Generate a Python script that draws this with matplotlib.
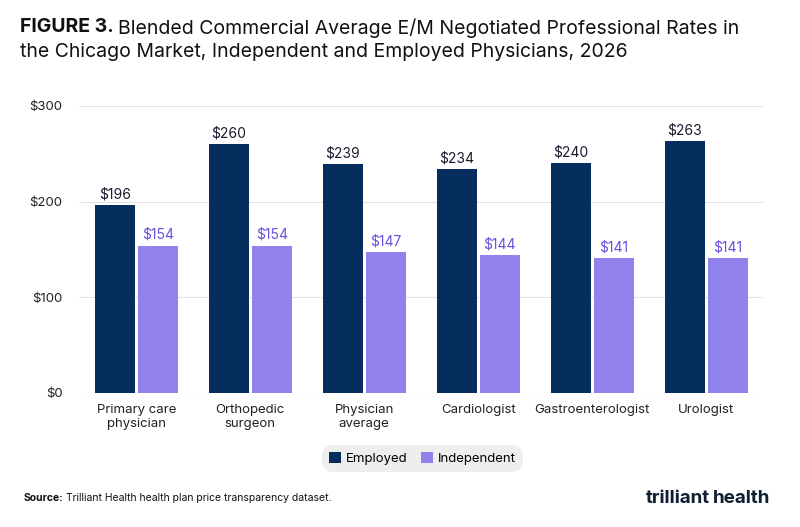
import matplotlib
matplotlib.use("Agg")
import matplotlib.pyplot as plt
import numpy as np

plt.rcParams['font.family'] = ['Inter', 'DejaVu Sans']

categories = ["Primary care\nphysician", "Orthopedic\nsurgeon", "Physician\naverage",
              "Cardiologist", "Gastroenterologist", "Urologist"]
employed = [196, 260, 239, 234, 240, 263]
independent = [154, 154, 147, 144, 141, 141]

navy = "#052d5e"
purple = "#9181ec"

fig = plt.figure(figsize=(8, 5.27), dpi=100)
ax = fig.add_axes([0.099, 0.2543, 0.855, 0.5446])

x = np.arange(len(categories))
w = 0.35
ax.bar(x - w / 2 - 0.013, employed, w, color=navy, label="Employed", zorder=3)
ax.bar(x + w / 2 + 0.013, independent, w, color=purple, label="Independent", zorder=3)
for xi, e, i in zip(x, employed, independent):
    ax.text(xi - w / 2 - 0.013, e + 4, f"${e}", ha="center", va="bottom", fontsize=10, color="#1a1a2e")
    ax.text(xi + w / 2 + 0.013, i + 4, f"${i}", ha="center", va="bottom", fontsize=10, color="#6a4fe0")

ax.set_xlim(-0.5, 5.5)
ax.set_ylim(0, 300)
ax.set_yticks([0, 100, 200, 300])
ax.set_yticklabels(["$0", "$100", "$200", "$300"])
ax.set_xticks(x)
ax.set_xticklabels(categories)
ax.tick_params(length=0, labelsize=9.5, colors="#222222")
ax.tick_params(axis="x", pad=8)
ax.tick_params(axis="y", pad=12)
ax.grid(axis="y", color="#e2e2e2", linewidth=0.8, zorder=0)
for s in ax.spines.values():
    s.set_visible(False)

renderer = fig.canvas.get_renderer()


def pair(x0, y0, bold, rest, size, va, gap=4):
    t = fig.text(x0, y0, bold, fontsize=size, fontweight="bold", va=va, color="#111111")
    bb = t.get_window_extent(renderer)
    fig.text(bb.x1 / fig.bbox.width + gap / 800, y0, rest, fontsize=size, va=va, color="#111111")


pair(0.025, 0.965, "FIGURE 3.", "Blended Commercial Average E/M Negotiated Professional Rates in", 14, "top")
fig.text(0.025, 0.918, "the Chicago Market, Independent and Employed Physicians, 2026",
         fontsize=14, va="top", color="#111111")

leg = fig.legend(loc="center", bbox_to_anchor=(0.528, 0.13), ncol=2, frameon=True,
                 fontsize=9.5, handlelength=0.9, handleheight=0.9, columnspacing=1.0,
                 handletextpad=0.4, borderpad=0.5)
fr = leg.get_frame()
fr.set_facecolor("#eeeeee")
fr.set_edgecolor("none")
fr.set_alpha(1)
fr.set_boxstyle("round,pad=0,rounding_size=0.9")

pair(0.03, 0.055, "Source:", "Trilliant Health health plan price transparency dataset.", 7.5, "center", gap=2)

t = fig.text(0.963, 0.055, "health", fontsize=13.5, fontweight="bold", ha="right", va="center", color="#0f1f33")
bb = t.get_window_extent(renderer)
fig.text(bb.x0 / fig.bbox.width - 0.004, 0.055, "trilliant", fontsize=13.5, fontweight="bold",
         ha="right", va="center", color="#0f1f33")

fig.savefig("out.png", dpi=100)
